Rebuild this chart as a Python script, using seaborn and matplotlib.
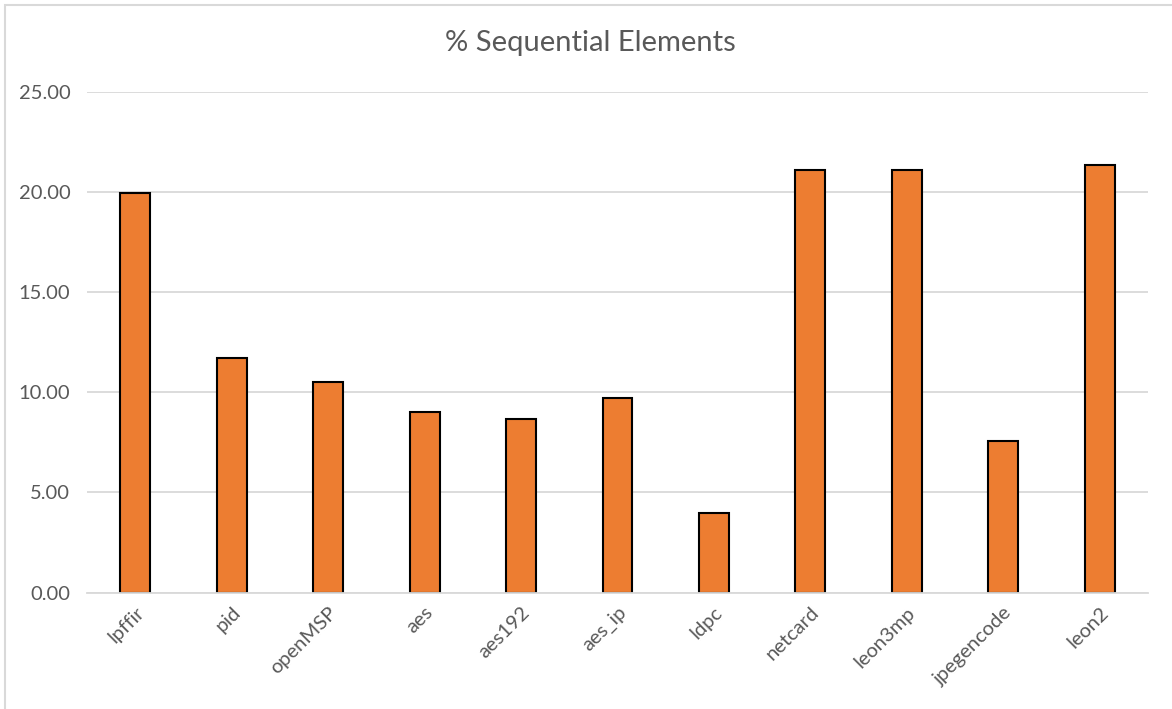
import matplotlib
matplotlib.use("Agg")
import matplotlib.pyplot as plt
import seaborn as sns
import pandas as pd
from matplotlib.patches import Rectangle

# Benchmark designs and their share of sequential elements (%)
designs = ["lpffir", "pid", "openMSP", "aes", "aes192", "aes_ip",
           "ldpc", "netcard", "leon3mp", "jpegencode", "leon2"]
seq_pct = [19.95, 11.71, 10.53, 9.02, 8.65, 9.72,
           3.96, 21.10, 21.10, 7.58, 21.35]
y_ticks = [0, 5, 10, 15, 20, 25]

df = pd.DataFrame({"design": designs, "pct": seq_pct})

sns.set_theme(style="white")
plt.rcParams["font.family"] = ["Lato", "DejaVu Sans"]

fig = plt.figure(figsize=(11.72, 7.09), dpi=100)
ax = fig.add_axes([87 / 1172, 1 - 592.5 / 709, (1148 - 87) / 1172, (592.5 - 92) / 709])

sns.barplot(data=df, x="design", y="pct", ax=ax, color="#ED7D31",
            saturation=1, width=0.31, edgecolor="black", linewidth=1.5,
            zorder=3)

ax.set_ylim(0, 25)
ax.set_yticks(y_ticks)
ax.set_yticklabels([f"{v:.2f}" for v in y_ticks], fontsize=14.5, color="#595959")
ax.yaxis.grid(True, color="#d9d9d9", linewidth=1.3, zorder=0)
ax.set_axisbelow(True)
ax.tick_params(axis="y", length=0, pad=12)
ax.tick_params(axis="x", length=0, pad=8)
plt.setp(ax.get_xticklabels(), rotation=45, ha="right", rotation_mode="anchor",
         fontsize=14.5, color="#595959")
ax.set_xlabel("")
ax.set_ylabel("")
for side in ["top", "right", "left"]:
    ax.spines[side].set_visible(False)
ax.spines["bottom"].set_color("#d9d9d9")
ax.spines["bottom"].set_linewidth(1.3)
ax.spines["bottom"].set_zorder(4)

fig.text(590 / 1172, 1 - 43 / 709, "% Sequential Elements", ha="center",
         va="center", fontsize=21, color="#595959")

# Chart area frame
fig.patches.append(Rectangle((5 / 1172, -0.05), 1.2, 1 - 5 / 709 + 0.05,
                             transform=fig.transFigure, fill=False,
                             edgecolor="#d9d9d9", linewidth=1.5))

fig.savefig("out.png", dpi=100)
